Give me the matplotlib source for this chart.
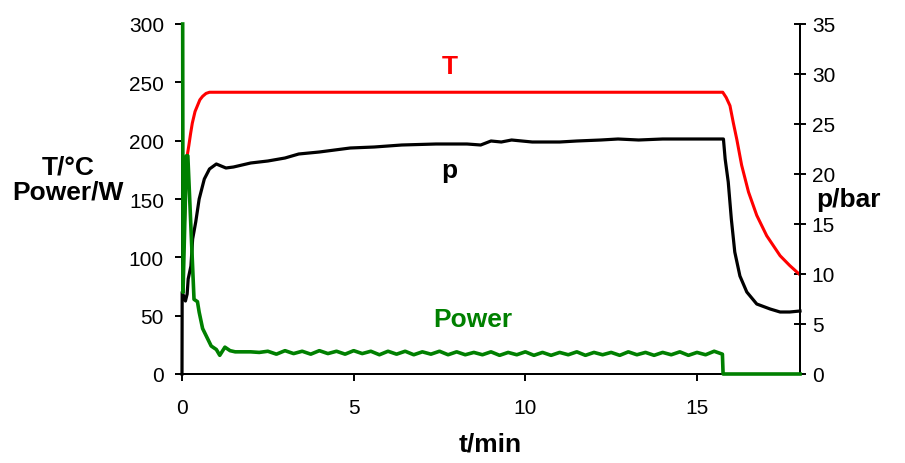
import matplotlib
matplotlib.use("Agg")
import matplotlib.pyplot as plt

plt.rcParams['font.family'] = ['Liberation Sans', 'DejaVu Sans']

# temperature (deg C), left axis
t_T = [0.0, 0.14, 0.2, 0.25, 0.3, 0.38, 0.45, 0.52, 0.6, 0.7, 0.8,
       15.75, 15.85, 15.96, 16.06, 16.16, 16.3, 16.5, 16.74, 17.03, 17.42, 17.7, 18.0]
T_vals = [71, 185, 196, 206, 215, 225, 230, 235, 238, 240.5, 241.5,
          241.5, 237, 230, 215, 201, 179, 156, 136, 118.5, 101.4, 93, 85]

# pressure (bar), right axis
t_p = [0.0, 0.005, 0.1, 0.15, 0.18, 0.26, 0.31, 0.4, 0.5, 0.65, 0.8, 1.0, 1.28, 1.5,
       2.0, 2.5, 3.0, 3.4, 4.0, 4.9, 5.6, 6.4, 7.4, 8.3, 8.7, 9.0, 9.3, 9.6, 10.2,
       11.0, 11.5, 12.2, 12.7, 13.3, 14.0, 15.0, 15.77, 15.82, 15.91, 16.0, 16.1,
       16.25, 16.45, 16.74, 17.13, 17.42, 17.7, 18.0]
p_vals = [0.0, 8.2, 7.3, 8.0, 9.5, 10.8, 13.5, 15.2, 17.5, 19.5, 20.5, 21.0, 20.6, 20.7,
          21.1, 21.3, 21.6, 22.0, 22.2, 22.6, 22.7, 22.9, 23.0, 23.0, 22.9, 23.3, 23.2, 23.4, 23.2,
          23.2, 23.3, 23.4, 23.5, 23.4, 23.5, 23.5, 23.5, 21.5, 19.2, 15.5, 12.2,
          9.8, 8.2, 7.0, 6.5, 6.2, 6.2, 6.3]

# microwave power (W), left axis
t_P = [0.02, 0.03, 0.13, 0.17, 0.35, 0.45, 0.5, 0.6, 0.75, 0.85, 1.0, 1.1, 1.25, 1.4, 1.55,
       1.75, 2.0, 2.25, 2.5, 2.75, 3.0, 3.25, 3.5, 3.75, 4.0, 4.25, 4.5, 4.75, 5.0,
       5.25, 5.5, 5.75, 6.0, 6.25, 6.5, 6.75, 7.0, 7.25, 7.5, 7.75, 8.0, 8.25, 8.5,
       8.75, 9.0, 9.25, 9.5, 9.75, 10.0, 10.25, 10.5, 10.75, 11.0, 11.25, 11.5, 11.75,
       12.0, 12.25, 12.5, 12.75, 13.0, 13.25, 13.5, 13.75, 14.0, 14.25, 14.5, 14.75,
       15.0, 15.25, 15.5, 15.74, 15.76, 18.0]
P_vals = [300, 70, 187, 187, 64, 62, 53, 39, 30, 24, 21, 16, 23, 20, 19,
          19, 19, 18.5, 19.5, 17, 20, 17.5, 19.5, 17, 20, 17.5, 19.5, 17, 20,
          17.5, 19.5, 16.5, 19.5, 17, 19.5, 16.5, 19, 17, 19.5, 16.5, 19, 16.5, 18.5,
          16.5, 19, 16, 18.5, 16.5, 19, 16, 18.5, 16, 18.5, 16.5, 19, 16,
          18.5, 16.5, 18.5, 16, 19, 16.5, 18.5, 16, 18.5, 16.5, 19, 16,
          18.5, 16.5, 19.5, 17, 0, 0]

fig = plt.figure(figsize=(9.05, 4.64), dpi=100)
ax = fig.add_axes([182 / 905, 1 - 375 / 464, (800 - 182) / 905, 350 / 464])
ax2 = ax.twinx()
ax.set_zorder(ax2.get_zorder() + 1)
ax.patch.set_visible(False)

ax2.plot(t_p, p_vals, color='black', lw=2.3, clip_on=False, zorder=3)
ax.plot(t_T, T_vals, color='red', lw=2.2)
ax.plot(t_P, P_vals, color='green', lw=2.6, clip_on=False, zorder=3)

ax.set_xlim(0, 18)
ax.set_ylim(0, 300)
ax2.set_ylim(0, 35)
ax.set_xticks([0, 5, 10, 15])
ax.set_yticks(range(0, 301, 50))
ax2.set_yticks(range(0, 36, 5))

for a in (ax, ax2):
    a.spines['top'].set_visible(False)
    for s in ('left', 'right', 'bottom'):
        a.spines[s].set_linewidth(1.4)
ax.tick_params(axis='both', direction='out', length=5, width=1.4, labelsize=15, pad=8)
ax2.tick_params(axis='y', direction='inout', length=9, width=1.4, labelsize=15, pad=4)
ax.tick_params(axis='x', pad=12)

ax.text(7.81, 264, 'T', color='red', fontsize=19, fontweight='bold', ha='center', va='center')
ax.text(7.78, 175, 'p', color='black', fontsize=19, fontweight='bold', ha='center', va='center')
ax.text(8.48, 47, 'Power', color='green', fontsize=19, fontweight='bold', ha='center', va='center')

fig.text(68 / 905, 1 - 180 / 464, 'T/°C\nPower/W', fontsize=19, fontweight='bold',
         ha='center', va='center', linespacing=1.05)
fig.text(848 / 905, 1 - 200 / 464, 'p/bar', fontsize=19, fontweight='bold', ha='center', va='center')
fig.text(490 / 905, 1 - 445 / 464, 't/min', fontsize=19, fontweight='bold', ha='center', va='center')

fig.savefig('out.png', dpi=100)
